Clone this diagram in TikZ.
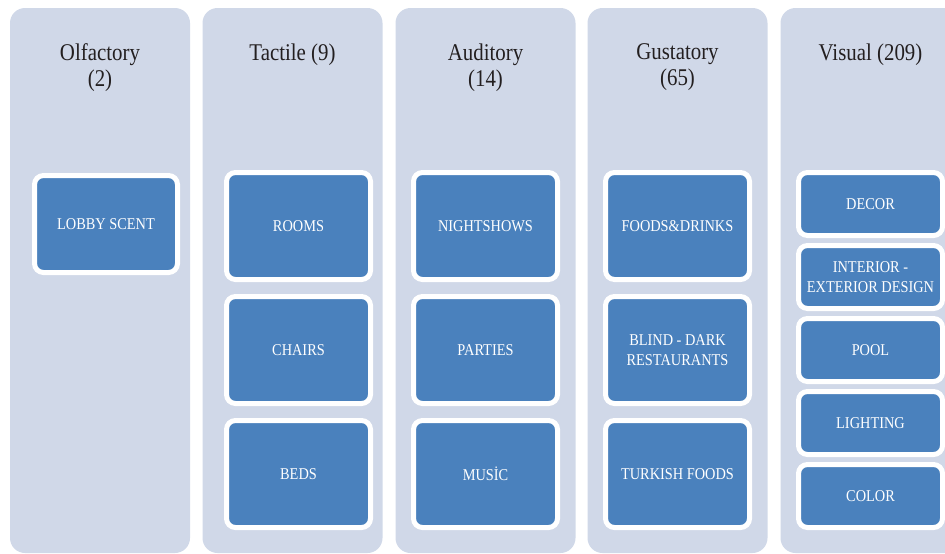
\documentclass[tikz,border=0pt]{standalone}
\usepackage{fontspec}
\setmainfont{Liberation Serif}[FakeStretch=0.87]
\usetikzlibrary{positioning}
\definecolor{PaleBlue}{RGB}{208,216,232}
\definecolor{MidBlue}{RGB}{74,129,189}
\definecolor{TitleGray}{RGB}{35,31,32}
\tikzset{
  sense/.style={fill=PaleBlue, rounded corners=15pt, minimum width=180pt,
    minimum height=545pt, inner sep=0pt},
  sensetitle/.style={anchor=north, inner sep=0pt, align=center,
    text=TitleGray, font=\fontsize{24}{26}\selectfont},
  cue/.style={draw=white, line width=5pt, fill=MidBlue, rounded corners=9pt,
    minimum width=144pt, minimum height=107pt, inner sep=0pt, align=center,
    text=white, font=\fontsize{16.5}{20}\selectfont},
  smallcue/.style={cue, minimum height=63pt}
}

\begin{document}
\begin{tikzpicture}[x=1pt,y=-1pt]
      \useasboundingbox (0,0) rectangle (945,554);
      \clip (0,0) rectangle (945,554);
      % the five senses
      \node[sense] (olfactory) at (100,280.5) {};
      \node[sense] (tactile) at (292.5,280.5) {};
      \node[sense] (auditory) at (485.5,280.5) {};
      \node[sense] (gustatory) at (677.5,280.5) {};
      \node[sense] (visual) at (870.5,280.5) {};
      \node[sensetitle] (olfactorytitle) at (100,43.5) {Olfactory\\(2)};
      \node[sensetitle] (tactiletitle) at (292.5,43.5) {Tactile (9)};
      \node[sensetitle] (auditorytitle) at (485.5,43.5) {Auditory\\(14)};
      \node[sensetitle] (gustatorytitle) at (677.5,43.5) {Gustatory\\(65)};
      \node[sensetitle] (visualtitle) at (870.5,43.5) {Visual (209)};
      % olfactory
      \node[cue, minimum width=143pt, minimum height=97pt] (scent) at (106,224) {LOBBY SCENT};
      % tactile
      \node[cue] (rooms) at (298.5,226) {ROOMS};
      \node[cue, below=12pt of rooms] (chairs) {CHAIRS};
      \node[cue, below=12pt of chairs] (beds) {BEDS};
      % auditory
      \node[cue] (nightshows) at (485.5,226) {NIGHTSHOWS};
      \node[cue, below=12pt of nightshows] (parties) {PARTIES};
      \node[cue, below=12pt of parties] (music) {MUSİC};
      % gustatory
      \node[cue] (foods) at (677.5,226) {FOODS\&DRINKS};
      \node[cue, below=12pt of foods] (blind) {BLIND - DARK\\RESTAURANTS};
      \node[cue, below=12pt of blind] (turkish) {TURKISH FOODS};
      % visual
      \node[smallcue] (decor) at (870.5,204) {DECOR};
      \node[smallcue, below=5pt of decor] (design) {INTERIOR -\\EXTERIOR DESIGN};
      \node[smallcue, below=5pt of design] (pool) {POOL};
      \node[smallcue, below=5pt of pool] (lighting) {LIGHTING};
      \node[smallcue, below=5pt of lighting] (color) {COLOR};
    \end{tikzpicture}
\end{document}
